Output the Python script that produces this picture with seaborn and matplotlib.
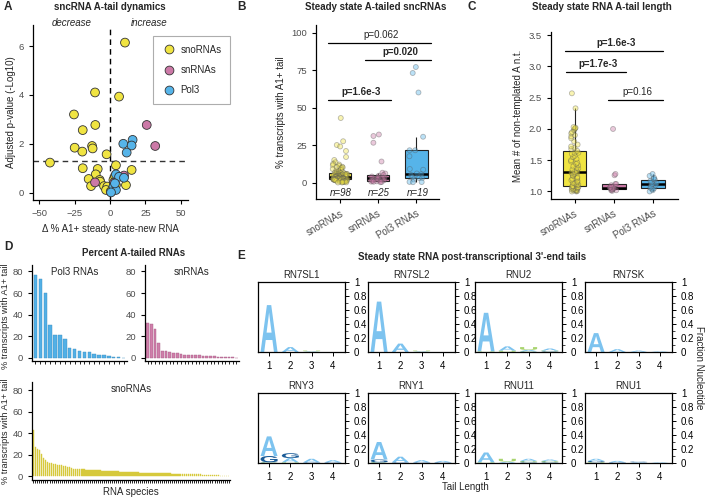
import numpy as np
import pandas as pd
import matplotlib
matplotlib.use('Agg')
import matplotlib.pyplot as plt
import seaborn as sns
from matplotlib.textpath import TextPath
from matplotlib.patches import PathPatch
from matplotlib.font_manager import FontProperties
import matplotlib.transforms as mtransforms

# ---------------- data ----------------
groups = ['snoRNAs', 'snRNAs', 'Pol3 RNAs']
legend_names = ['snoRNAs', 'snRNAs', 'Pol3']

# panel A: change in % A1+ (steady state - new RNA) vs adjusted p-value (-log10)
sno_dx = [10.6, -10.6, 6.4, -25.5, -19.3, -10.4, -25, -19.6, -12.7, -12.3, -2.4, -42.5, -19.3, -8.7,
          -10.1, 4.2, 15.3, -15.1, -7.3, -7, -13.4, -4.2, -1.9, -2.8, 4.2, 11.3, 2.4, 3.5, 0.5]
sno_p = [6.14, 4.1, 3.93, 3.2, 2.56, 2.77, 1.84, 1.68, 1.91, 1.81, 1.57, 1.23, 1.0, 0.97,
         0.75, 1.12, 0.93, 0.56, 0.52, 0.45, 0.27, 0.27, 0.25, 0.11, 0.31, 0.31, 0.52, 0.68, 0.05]
sn_dx = [26, 32, 9.9, -10.6, 2.8]
sn_p = [2.77, 1.91, 0.7, 0.42, 0.41]
pol3_dx = [16, 9.4, 15.3, 11.8, 4.2, 6.4, 9.9, 2.4, 4.2, 0.7, 3.5]
pol3_p = [2.16, 2.0, 1.93, 1.64, 0.75, 0.65, 0.61, 0.25, 0.11, 0.01, 0.38]

# panels B and D: % transcripts with A1+ tail, per RNA species (sorted)
pol3_pct = [77, 73, 60, 30.5, 21.5, 21.5, 17.5, 9, 8.5, 6, 5.5, 5, 3.5, 3, 3, 2, 0.4, 0.3, 0.2]
snrna_pct = [32, 31, 26.5, 14, 6.5, 6, 5, 4.5, 4, 3.5, 3, 3, 2.8, 2.5, 2.2, 2, 1.7, 1.5, 1.2, 1,
             0.8, 0.6, 0.5, 0.3, 0.2]
snorna_pct = [43, 27.5, 25, 24, 21, 17, 15, 13.5, 12.5, 12, 11.5, 11, 10.5, 10.2, 10, 9.5, 9, 8.5, 8, 7.4,
              7, 6.8, 6.6, 6.5, 6.3, 6.1, 6.0, 5.9, 5.8, 5.7,
              5.6, 5.5, 5.4, 5.3, 5.1, 5.0, 4.9, 4.8, 4.7, 4.6,
              4.5, 4.4, 4.3, 4.2, 4.1, 4.0, 3.9, 3.8, 3.7, 3.6,
              3.5, 3.4, 3.3, 3.2, 3.1, 3.0, 3.0, 2.9, 2.9, 2.8,
              2.8, 2.7, 2.7, 2.6, 2.6, 2.5, 2.5, 2.4, 2.4, 2.3,
              2.3, 2.2, 2.2, 2.2, 2.1, 2.1, 2.0, 2.0, 1.9, 1.9,
              1.8, 1.7, 1.6, 1.5, 1.4, 1.3, 1.2, 1.1, 1.0, 0.9,
              0.8, 0.7, 0.6, 0.4, 0.2, 0.1, 0.05, 0.0]

# panel C: mean number of non-templated A nt
sno_len = [1.00, 1.00, 1.01, 1.01, 1.02, 1.02, 1.03, 1.03, 1.04, 1.05, 1.05, 1.06, 1.06, 1.07, 1.07,
           1.08, 1.08, 1.09, 1.10, 1.11, 1.12, 1.13, 1.14, 1.15, 1.17, 1.18, 1.20, 1.21, 1.23, 1.25,
           1.26, 1.28, 1.29, 1.30, 1.30, 1.31, 1.33, 1.35, 1.37, 1.38, 1.40, 1.42, 1.44, 1.46, 1.48,
           1.50, 1.52, 1.55, 1.57, 1.60, 1.62, 1.62, 1.65, 1.68, 1.70, 1.72, 1.75, 1.80, 1.85, 1.88,
           1.90, 1.93, 1.95, 1.98, 2.00, 2.01, 2.02, 2.03, 2.33, 2.57]
sn_len = [1.01, 1.02, 1.02, 1.03, 1.04, 1.05, 1.06, 1.06, 1.08, 1.10, 1.12, 1.12, 1.26, 1.28, 2.00]
pol3_len = [1.00, 1.02, 1.04, 1.05, 1.06, 1.08, 1.10, 1.11, 1.12, 1.13, 1.15, 1.17, 1.19, 1.20,
            1.22, 1.25, 1.28]

# panel E: tail nucleotide fractions at positions 1-4
logo_rnas = ['RN7SL1', 'RN7SL2', 'RNU2', 'RN7SK', 'RNY3', 'RNY1', 'RNU11', 'RNU1']
frac_A = [[0.67, 0.07, 0.01, 0.0], [0.72, 0.12, 0.01, 0.0], [0.55, 0.06, 0.02, 0.03],
          [0.27, 0.04, 0.02, 0.01], [0.28, 0.06, 0.05, 0.03], [0.25, 0.08, 0.03, 0.02],
          [0.14, 0.02, 0.03, 0.02], [0.03, 0.02, 0.01, 0.01]]
frac_G = [[0, 0, 0, 0], [0, 0, 0, 0], [0, 0, 0, 0.01], [0, 0, 0, 0],
          [0.09, 0.07, 0.01, 0.01], [0.04, 0.01, 0.01, 0.01], [0, 0, 0.01, 0.01], [0.02, 0.01, 0.01, 0]]
frac_U = [[0, 0, 0.01, 0], [0, 0, 0.01, 0], [0.01, 0.02, 0.04, 0.01], [0, 0, 0, 0],
          [0, 0.01, 0, 0], [0, 0, 0, 0], [0.01, 0.04, 0.01, 0.01], [0.01, 0, 0, 0]]
frac_C = [[0, 0, 0, 0], [0, 0, 0, 0], [0, 0, 0.01, 0], [0, 0, 0, 0],
          [0.01, 0, 0, 0], [0.01, 0, 0, 0], [0, 0, 0.01, 0.01], [0, 0, 0, 0]]

# ---------------- style ----------------
sns.set_style('ticks')
plt.rcParams['font.family'] = ['Liberation Sans', 'DejaVu Sans']
plt.rcParams['axes.linewidth'] = 0.9
pal = {'snoRNAs': '#F0E442', 'snRNAs': '#CC79A7', 'Pol3 RNAs': '#56B4E9'}
nuc_col = {'A': '#7DC3EF', 'G': '#1B5C98', 'U': '#A9D46F', 'C': '#2E8B57'}
TICK = '#4D4D4D'

W, H = 705, 499
fig = plt.figure(figsize=(W / 100, H / 100), dpi=100)


def add_ax(l, r, t, b):
    return fig.add_axes([l / W, 1 - b / H, (r - l) / W, (b - t) / H])


def ftext(x, y, s, **kw):
    fig.text(x / W, 1 - y / H, s, **kw)


def tidy(ax, fs=6.8):
    ax.tick_params(labelsize=fs, colors='black', labelcolor=TICK, length=3, width=0.8)
    for s in ['left', 'bottom']:
        ax.spines[s].set_color('black')


# ---------------- panel A ----------------
axA = add_ax(33, 188, 25, 200)
dfA = pd.DataFrame({
    'dx': sno_dx + sn_dx + pol3_dx,
    'p': sno_p + sn_p + pol3_p,
    'grp': ['snoRNAs'] * len(sno_dx) + ['snRNAs'] * len(sn_dx) + ['Pol3'] * len(pol3_dx)})
sns.scatterplot(data=dfA, x='dx', y='p', hue='grp', hue_order=legend_names,
                palette=dict(zip(legend_names, pal.values())), s=40, edgecolor='#333333',
                linewidth=0.6, ax=axA, zorder=3)
axA.axhline(1.3, color='#333333', ls=(0, (4, 3)), lw=1.0, zorder=1)
axA.axvline(0, color='black', ls=(0, (4, 3)), lw=1.0, zorder=1)
axA.set_xlim(-54.5, 55.2)
axA.set_ylim(-0.3, 6.86)
axA.set_xticks([-50, -25, 0, 25, 50])
axA.set_yticks([0, 2, 4, 6])
axA.set_xlabel('Δ % A1+ steady state-new RNA', fontsize=7)
axA.set_ylabel('Adjusted p-value (-Log10)', fontsize=7, labelpad=2)
axA.text(-27, 6.93, 'decrease', style='italic', fontsize=7, ha='center', va='center', clip_on=False)
axA.text(27.5, 6.93, 'increase', style='italic', fontsize=7, ha='center', va='center', clip_on=False)
sns.despine(ax=axA)
tidy(axA)
leg = axA.legend(loc='upper left', bbox_to_anchor=(153 / W, 1 - 36 / H), bbox_transform=fig.transFigure,
                 fontsize=7, frameon=True, fancybox=False, edgecolor='#999999', labelspacing=1.05,
                 borderpad=0.9, handletextpad=0.5, handlelength=1.4, borderaxespad=0, title=None)
leg.get_frame().set_linewidth(0.8)

# ---------------- panel B ----------------
axB = add_ax(316, 439, 25, 199)
dfB = pd.DataFrame({'grp': ['snoRNAs'] * len(snorna_pct) + ['snRNAs'] * len(snrna_pct)
                    + ['Pol3 RNAs'] * len(pol3_pct),
                    'val': snorna_pct + snrna_pct + pol3_pct})
np.random.seed(3)
sns.boxplot(data=dfB, x='grp', y='val', hue='grp', order=groups, palette=pal, saturation=1,
            width=0.6, showfliers=False, showcaps=False, linecolor='#222222', linewidth=0.8,
            medianprops=dict(linewidth=1.8, color='black'), legend=False, ax=axB)
sns.stripplot(data=dfB, x='grp', y='val', hue='grp', order=groups, palette=pal, jitter=0.2,
              size=3.6, alpha=0.4, linewidth=0.6, edgecolor='#555555', legend=False, ax=axB)
axB.set_xlim(-0.63, 2.6)
axB.set_ylim(-11, 105)
axB.set_yticks([0, 25, 50, 75, 100])
axB.set_xlabel('')
axB.set_ylabel('% transcripts with A1+ tail', fontsize=7)
for i, n in enumerate([len(snorna_pct), len(snrna_pct), len(pol3_pct)]):
    axB.text(i + 0.03, -6.9, f'n={n}', style='italic', fontsize=7, ha='center', va='center')
for x0, x1, y, lab, bold in [(-0.32, 2.39, 92.7, 'p=0.062', False), (0.66, 2.39, 81.6, 'p=0.020', True),
                             (-0.32, 1.34, 55, 'p=1.6e-3', True)]:
    axB.plot([x0, x1], [y, y], color='black', lw=0.9)
    axB.text((x0 + x1) / 2 + 0.05, y + 2, lab, fontsize=7, ha='center', va='bottom',
             fontweight='bold' if bold else 'normal')
sns.despine(ax=axB)
tidy(axB)
plt.setp(axB.get_xticklabels(), rotation=30, ha='right', rotation_mode='anchor', fontsize=7)

# ---------------- panel C ----------------
axC = add_ax(551, 678, 32, 199)
dfC = pd.DataFrame({'grp': ['snoRNAs'] * len(sno_len) + ['snRNAs'] * len(sn_len)
                    + ['Pol3 RNAs'] * len(pol3_len),
                    'val': sno_len + sn_len + pol3_len})
sns.boxplot(data=dfC, x='grp', y='val', hue='grp', order=groups, palette=pal, saturation=1,
            width=0.6, showfliers=False, showcaps=False, linecolor='#222222', linewidth=0.8,
            medianprops=dict(linewidth=1.8, color='black'), legend=False, ax=axC)
sns.stripplot(data=dfC, x='grp', y='val', hue='grp', order=groups, palette=pal, jitter=0.1,
              size=3.6, alpha=0.4, linewidth=0.6, edgecolor='#555555', legend=False, ax=axC)
axC.set_xlim(-0.6, 2.63)
axC.set_ylim(0.88, 3.55)
axC.set_yticks([1.0, 1.5, 2.0, 2.5, 3.0, 3.5])
axC.set_yticklabels(['1.0', '1.5', '2.0', '2.5', '3.0', '3.5'])
axC.set_xlabel('')
axC.set_ylabel('Mean # of non-templated A n.t.', fontsize=7)
for x0, x1, y, lab, bold in [(-0.24, 2.25, 3.25, 'p=1.6e-3', True), (-0.21, 1.30, 2.91, 'p=1.7e-3', True),
                             (0.86, 2.25, 2.46, 'p=0.16', False)]:
    axC.plot([x0, x1], [y, y], color='black', lw=0.9)
    axC.text((x0 + x1) / 2 + 0.05, y + 0.05, lab, fontsize=7, ha='center', va='bottom',
             fontweight='bold' if bold else 'normal')
sns.despine(ax=axC)
tidy(axC)
plt.setp(axC.get_xticklabels(), rotation=30, ha='right', rotation_mode='anchor', fontsize=7)

# ---------------- panel D ----------------
def bar_panel(ax, vals, fill, edge, title, tx, ylim, width):
    sns.barplot(x=list(range(len(vals))), y=vals, color=fill, saturation=1, width=width,
                edgecolor=edge, linewidth=0.3, ax=ax)
    ax.set_ylim(*ylim)
    ax.set_xlim(-0.7, len(vals) - 0.3)
    ax.set_yticks([0, 20, 40, 60, 80])
    ax.tick_params(axis='x', labelbottom=False, length=2, width=0.6)
    ax.text(tx, 0.93, title, transform=ax.transAxes, fontsize=7, ha='center', va='center')
    sns.despine(ax=ax)
    tidy(ax)
    ax.tick_params(axis='x', length=2, width=0.6)


axD1 = add_ax(32, 127, 265, 361)
bar_panel(axD1, pol3_pct, '#52B0E6', '#3E8DBF', 'Pol3 RNAs', 0.45, (-3, 86), 0.7)
axD1.set_ylabel('% transcripts with A1+ tail', fontsize=6.6)
axD1.yaxis.set_label_coords(-22 / 95, 0.47)
axD2 = add_ax(145, 239, 265, 361)
bar_panel(axD2, snrna_pct, '#CF7FAA', '#A85D86', 'snRNAs', 0.5, (-3, 86), 0.75)
axD3 = add_ax(32, 230, 382, 480)
bar_panel(axD3, snorna_pct, '#D6C93C', '#D6C93C', 'snoRNAs', 0.5, (-3.7, 87.7), 0.8)
axD3.set_ylabel('% transcripts with A1+ tail', fontsize=6.6)
axD3.yaxis.set_label_coords(-22 / 198, 0.5)
axD3.set_xlabel('RNA species', fontsize=7, labelpad=3)

# ---------------- panel E ----------------
fp = FontProperties(family='Liberation Sans', weight='bold')


def draw_letter(ax, ch, x, y0, h, color):
    tp = TextPath((0, 0), ch, size=1, prop=fp)
    bb = tp.get_extents()
    w = 0.8
    tr = mtransforms.Affine2D().translate(-bb.x0, -bb.y0).scale(w / bb.width, h / bb.height) \
        .translate(x - w / 2, y0)
    ax.add_patch(PathPatch(tr.transform_path(tp), facecolor=color, edgecolor='none', lw=0))


lefts = [258, 368, 475, 585]
rows = [(282, 352), (393, 463)]
for k, name in enumerate(logo_rnas):
    t, b = rows[k // 4]
    l = lefts[k % 4]
    ax = add_ax(l, l + 87, t, b)
    for pos in range(4):
        stack = [('A', frac_A[k][pos]), ('G', frac_G[k][pos]), ('U', frac_U[k][pos]), ('C', frac_C[k][pos])]
        stack = sorted([s for s in stack if s[1] > 0.004], key=lambda s: s[1])
        y0 = 0
        for ch, h in stack:
            draw_letter(ax, ch, pos + 1, y0, h, nuc_col[ch])
            y0 += h
    ax.set_xlim(0.48, 4.57)
    ax.set_ylim(0, 1)
    ax.set_xticks([1, 2, 3, 4])
    ax.yaxis.tick_right()
    ax.set_yticks([0, 0.2, 0.4, 0.6, 0.8, 1.0])
    ax.set_yticklabels(['0', '0.2', '0.4', '0.6', '0.8', '1'])
    ax.set_yticks(np.arange(0.1, 1.0, 0.2), minor=True)
    ax.tick_params(labelsize=7, length=3, width=0.7, colors='black')
    ax.tick_params(which='minor', length=2, width=0.6, right=True)
    for s in ax.spines.values():
        s.set_color('black')
        s.set_linewidth(0.9)
    ax.set_title(name, fontsize=7, pad=3)

# ---------------- titles and labels ----------------
ftext(4, 7, 'A', fontsize=8.5, fontweight='bold', va='center')
ftext(110, 7, 'sncRNA A-tail dynamics', fontsize=7, fontweight='bold', ha='center', va='center')
ftext(237, 7, 'B', fontsize=8.5, fontweight='bold', va='center')
ftext(376, 7, 'Steady state A-tailed sncRNAs', fontsize=7, fontweight='bold', ha='center', va='center')
ftext(468, 7, 'C', fontsize=8.5, fontweight='bold', va='center')
ftext(602, 7, 'Steady state RNA A-tail length', fontsize=7, fontweight='bold', ha='center', va='center')
ftext(4, 247, 'D', fontsize=8.5, fontweight='bold', va='center')
ftext(134, 253, 'Percent A-tailed RNAs', fontsize=7, fontweight='bold', ha='center', va='center')
ftext(237, 256, 'E', fontsize=8.5, fontweight='bold', va='center')
ftext(472, 257, "Steady state RNA post-transcriptional 3'-end tails", fontsize=7, fontweight='bold',
      ha='center', va='center')
ftext(465, 487, 'Tail Length', fontsize=7, ha='center', va='center')
ftext(699, 368, 'Fraction Nucleotide', fontsize=7, ha='center', va='center', rotation=270)

fig.savefig('out.png', dpi=100)
